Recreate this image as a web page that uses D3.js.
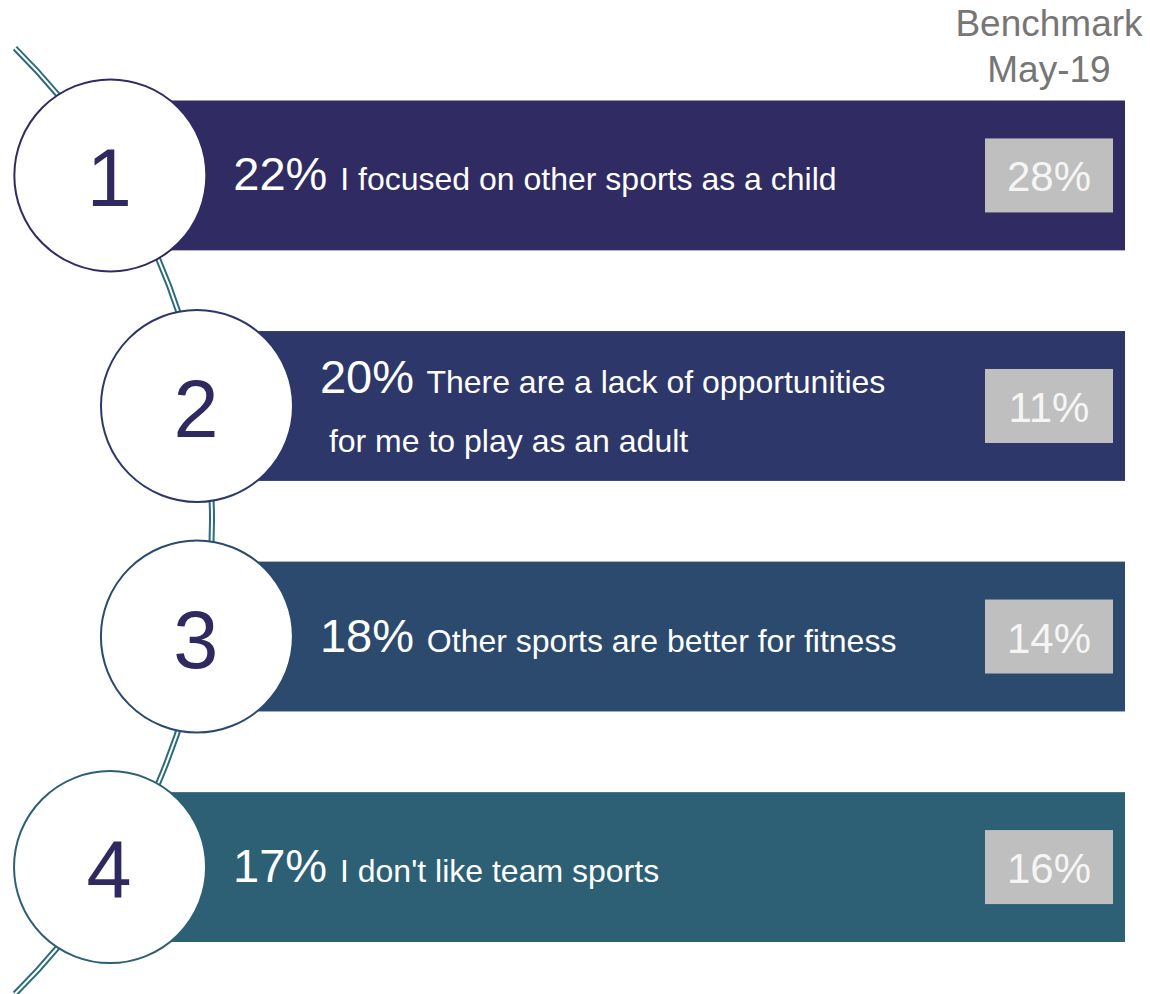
<!DOCTYPE html>
<html>
<head>
<meta charset="utf-8">
<script src="https://cdn.jsdelivr.net/npm/d3@7"></script>
<style>
  body { margin: 0; background: #fff; }
  text { font-family: "Liberation Sans", Arial, sans-serif; }
</style>
</head>
<body>
<script>
var ranks      = [1, 2, 3, 4];
var values     = [22, 20, 18, 17];
var labels     = [["I focused on other sports as a child"],
                  ["There are a lack of opportunities", " for me to play as an adult"],
                  ["Other sports are better for fitness"],
                  ["I don't like team sports"]];
var benchmark  = [28, 11, 14, 16];
var barColors  = ['#302b62', '#2d3769', '#2b4a6e', '#2d6075'];
var header     = ['Benchmark', 'May-19'];

var WIDTH  = 1150;
var HEIGHT = 994;

var svg = d3.select('body')
            .append('svg')
            .attr('width', WIDTH)
            .attr('height', HEIGHT);

var y = d3.scaleBand()
          .domain(ranks)
          .range([100.5, 942])
          .paddingInner(0.35)
          .paddingOuter(0);

// big background arc the circles sit on
var arcCx = -454, arcCy = 521, arcR = 666;
function arcX(yy) { return arcCx + Math.sqrt(arcR * arcR - (yy - arcCy) * (yy - arcCy)); }

var a0 = Math.atan2(48 - arcCy, 15 - arcCx);
var a1 = Math.atan2(994 - arcCy, 15 - arcCx);
var p = d3.path();
p.arc(arcCx, arcCy, arcR, a0, a1, false);

svg.append('path').attr('d', p.toString())
   .attr('fill', 'none').attr('stroke', '#2d6b7a').attr('stroke-width', 6);
svg.append('path').attr('d', p.toString())
   .attr('fill', 'none').attr('stroke', '#fff').attr('stroke-width', 2);

var R = 96;
var barRight = 1125;

var rows = svg.selectAll('g.row')
              .data(ranks)
              .enter()
            .append('g')
              .attr('class', 'row');

function cy(d) { return y(d) + y.bandwidth() / 2; }
function cx(d) { return arcX(cy(d)) - 5; }

rows.append('rect')
    .attr('x', cx)
    .attr('y', function(d) { return y(d); })
    .attr('width', function(d) { return barRight - cx(d); })
    .attr('height', y.bandwidth())
    .attr('fill', function(d, i) { return barColors[i]; });

rows.append('circle')
    .attr('cx', cx)
    .attr('cy', cy)
    .attr('r', R)
    .attr('fill', '#fff')
    .attr('stroke', function(d, i) { return barColors[i]; })
    .attr('stroke-width', 2);

rows.append('text')
    .attr('x', function(d) { return cx(d) - 1; })
    .attr('y', function(d) { return cy(d) + 31; })
    .attr('text-anchor', 'middle')
    .attr('font-size', 81)
    .attr('fill', '#2e2a60')
    .text(function(d) { return d; });

// label text
rows.each(function(d, i) {
  var g = d3.select(this);
  var lines = labels[i];
  var x0 = cx(d) + 123;
  var base = lines.length > 1 ? cy(d) - 13 : cy(d) + 15;
  var t = g.append('text')
           .attr('x', x0)
           .attr('y', base)
           .attr('fill', '#fff');
  t.append('tspan').attr('font-size', 47).text(values[i] + '%');
  t.append('tspan').attr('font-size', 32).attr('dx', 4).text(' ' + lines[0]);
  if (lines.length > 1) {
    g.append('text')
     .attr('x', x0)
     .attr('y', base + 59)
     .attr('fill', '#fff')
     .attr('font-size', 32)
     .attr('xml:space', 'preserve')
     .style('white-space', 'pre')
     .text(lines[1]);
  }
});

// benchmark boxes
var boxW = 128, boxH = 74, boxCx = 1049;
rows.append('rect')
    .attr('x', boxCx - boxW / 2)
    .attr('y', function(d) { return cy(d) - boxH / 2; })
    .attr('width', boxW)
    .attr('height', boxH)
    .attr('fill', '#bfbfbf');

rows.append('text')
    .attr('x', boxCx)
    .attr('y', function(d) { return cy(d) + 16; })
    .attr('text-anchor', 'middle')
    .attr('font-size', 42)
    .attr('fill', '#f5f5f5')
    .text(function(d, i) { return benchmark[i] + '%'; });

svg.selectAll('text.head')
   .data(header)
   .enter()
 .append('text')
   .attr('class', 'head')
   .attr('x', boxCx)
   .attr('y', function(d, i) { return 36 + i * 46; })
   .attr('text-anchor', 'middle')
   .attr('font-size', 37)
   .attr('fill', '#767676')
   .text(function(d) { return d; });
</script>
</body>
</html>
